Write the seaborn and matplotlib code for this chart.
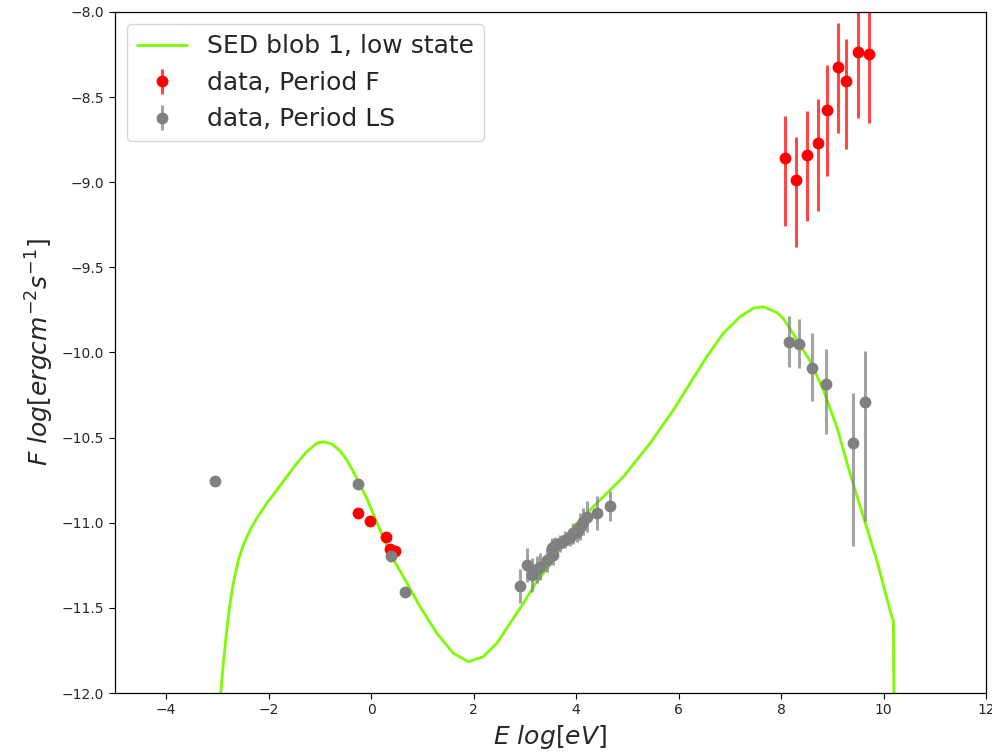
import numpy as np
import pandas as pd
import matplotlib
matplotlib.use("Agg")
import matplotlib.pyplot as plt
import seaborn as sns

# Model SED, blob 1 in its low state (log E [eV], log F [erg cm^-2 s^-1])
sed_logE = [-2.95, -2.933, -2.882, -2.816, -2.751, -2.687, -2.589, -2.492, -2.361,
            -2.230, -2.035, -1.840, -1.645, -1.450, -1.255, -1.060, -0.931, -0.767,
            -0.605, -0.474, -0.345, -0.215, -0.084, 0.176, 0.404, 0.630,
            0.956, 1.282, 1.606, 1.899, 2.191, 2.453, 2.712, 2.972, 3.233, 3.493,
            3.947, 4.273, 4.923, 5.444, 5.899, 6.224, 6.550, 6.874, 7.200, 7.460,
            7.655, 7.916, 8.045, 8.176, 8.371, 8.566, 8.825, 9.087, 9.346, 9.606,
            9.867, 10.160, 10.191, 10.211]
sed_logF = [-12.10, -12.00, -11.826, -11.630, -11.473, -11.356, -11.219, -11.131,
            -11.043, -10.974, -10.886, -10.808, -10.730, -10.651, -10.583, -10.533,
            -10.524, -10.537, -10.577, -10.631, -10.700, -10.778, -10.856, -11.043,
            -11.199, -11.317, -11.493, -11.649, -11.767, -11.816, -11.787, -11.708,
            -11.591, -11.473, -11.346, -11.248, -11.023, -10.925, -10.730, -10.533,
            -10.338, -10.181, -10.025, -9.887, -9.790, -9.740, -9.731, -9.765,
            -9.800, -9.860, -9.955, -10.050, -10.220, -10.436, -10.710, -10.964,
            -11.219, -11.552, -11.571, -12.30]

# Period F observations
f_logE = [-0.260, -0.020, 0.293, 0.371, 0.468,
          8.078, 8.293, 8.513, 8.722, 8.904, 9.112, 9.274, 9.508, 9.711]
f_logF = [-10.945, -10.992, -11.086, -11.156, -11.164,
          -8.856, -8.987, -8.840, -8.768, -8.576, -8.325, -8.405, -8.233, -8.249]
f_err_lo = [0, 0, 0, 0, 0,
            0.401, 0.392, 0.388, 0.399, 0.387, 0.388, 0.400, 0.388, 0.401]
f_err_hi = [0, 0, 0, 0, 0,
            0.247, 0.251, 0.259, 0.255, 0.263, 0.258, 0.246, 0.25, 0.25]

# Period LS observations
ls_logE = [-3.044, -0.260, 0.385, 0.669,
           2.907, 3.038, 3.136, 3.233, 3.298, 3.429, 3.526, 3.545, 3.590, 3.688,
           3.785, 3.883, 3.947, 4.014, 4.078, 4.142, 4.220, 4.404, 4.664,
           8.162, 8.357, 8.599, 8.878, 9.399, 9.639]
ls_logF = [-10.755, -10.772, -11.195, -11.407,
           -11.371, -11.248, -11.307, -11.273, -11.258, -11.219, -11.150, -11.189,
           -11.131, -11.121, -11.101, -11.086, -11.062, -11.053, -11.023, -10.994,
           -10.964, -10.941, -10.902,
           -9.936, -9.952, -10.089, -10.185, -10.533, -10.293]
ls_err_lo = [0, 0, 0, 0,
             0.10, 0.10, 0.10, 0.08, 0.08, 0.07, 0.06, 0.06, 0.05, 0.05,
             0.05, 0.05, 0.06, 0.06, 0.08, 0.08, 0.09, 0.10, 0.09,
             0.147, 0.141, 0.196, 0.296, 0.602, 0.695]
ls_err_hi = [0, 0, 0, 0,
             0.10, 0.10, 0.10, 0.08, 0.08, 0.07, 0.06, 0.06, 0.05, 0.05,
             0.05, 0.05, 0.06, 0.06, 0.08, 0.08, 0.09, 0.10, 0.09,
             0.152, 0.149, 0.202, 0.206, 0.293, 0.304]

x_ticks = [-4, -2, 0, 2, 4, 6, 8, 10, 12]
y_ticks = [-12.0, -11.5, -11.0, -10.5, -10.0, -9.5, -9.0, -8.5, -8.0]

sns.set_style("white")
plt.rcParams["font.family"] = ["DejaVu Sans"]

fig = plt.figure(figsize=(9.92, 7.54), dpi=100)
ax = fig.add_axes([0.1157, 0.0809, 0.8783, 0.9032])

sed = pd.DataFrame({"logE": sed_logE, "logF": sed_logF})
sns.lineplot(data=sed, x="logE", y="logF", ax=ax, color="lawngreen",
             linewidth=2, sort=False, label="SED blob 1, low state")

ax.errorbar(f_logE, f_logF, yerr=[f_err_lo, f_err_hi], fmt="o", color="red",
            ecolor=(1.0, 0.0, 0.0, 0.72), elinewidth=2.2, markersize=7.5,
            label="data, Period F")
ax.errorbar(ls_logE, ls_logF, yerr=[ls_err_lo, ls_err_hi], fmt="o", color="grey",
            ecolor=(0.5, 0.5, 0.5, 0.72), elinewidth=2.2, markersize=7.5,
            label="data, Period LS")

ax.set_xlim(-5, 12)
ax.set_ylim(-12, -8)
ax.set_xticks(x_ticks)
ax.set_yticks(y_ticks)
ax.set_yticklabels([f"{v:.1f}".replace("-", "\u2212") for v in y_ticks])
ax.tick_params(axis="both", labelsize=10, length=4, direction="out",
               bottom=True, left=True, color="black")
for s in ax.spines.values():
    s.set_visible(True)
    s.set_color("black")
    s.set_linewidth(0.9)

ax.set_xlabel(r"$E\ log[eV]$", fontsize=18)
ax.set_ylabel(r"$F\ log[ergcm^{-2}s^{-1}]$", fontsize=18)

ax.legend(loc="upper left", fontsize=18, frameon=True)

fig.savefig("out.png", dpi=100)
